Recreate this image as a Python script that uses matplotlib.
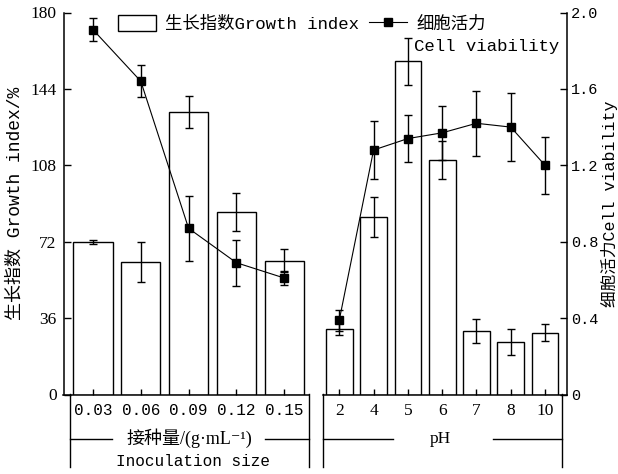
import matplotlib
matplotlib.use("Agg")
import matplotlib.pyplot as plt
from matplotlib.lines import Line2D
import numpy as np

# inoculation size group
inoc_labels = ["0.03", "0.06", "0.09", "0.12", "0.15"]
inoc_growth = [72, 62.5, 133, 86, 63]
inoc_growth_err = [1, 9.5, 7.5, 9, 5.5]
inoc_viab = [1.91, 1.64, 0.87, 0.69, 0.61]
inoc_viab_err = [0.06, 0.085, 0.17, 0.12, 0.035]

# pH group
ph_labels = ["2", "4", "5", "6", "7", "8", "10"]
ph_growth = [31, 83.5, 157, 110.5, 30, 24.7, 29]
ph_growth_err = [3, 9.5, 11, 8.8, 5.5, 6, 4]
ph_viab = [0.39, 1.28, 1.34, 1.37, 1.42, 1.40, 1.20]
ph_viab_err = [0.055, 0.15, 0.125, 0.14, 0.17, 0.18, 0.15]

left_ticks = [0, 36, 72, 108, 144, 180]
right_ticks = [0, 0.4, 0.8, 1.2, 1.6, 2.0]
right_ticklabels = ["0", "0.4", "0.8", "1.2", "1.6", "2.0"]

MONO = ["Liberation Mono", "Noto Sans CJK SC"]
SERIF = ["Liberation Serif", "DejaVu Serif", "Noto Sans CJK SC"]

W, H = 618, 474


def fx(x):
    return x / W


def fy(y):
    return 1 - y / H


def draw_group(ax, axr, growth, gerr, viab, verr, width):
    x = np.arange(len(growth))
    bars = ax.bar(x, growth, width, yerr=gerr, color="white", edgecolor="black",
                  linewidth=1, error_kw=dict(ecolor="black", elinewidth=1, capsize=3, capthick=1))
    eb = axr.errorbar(x, viab, yerr=verr, color="black", lw=0.8, marker="s", ms=6,
                      ecolor="black", elinewidth=1, capsize=3, capthick=1)
    return bars, eb


fig = plt.figure(figsize=(6.18, 4.74), dpi=100)
bottom = fy(394.5)
height = fy(12.5) - bottom
ax1 = fig.add_axes([fx(63.5), bottom, fx(309) - fx(63.5), height])
ax2 = fig.add_axes([fx(323), bottom, fx(567) - fx(323), height])
ax1r = ax1.twinx()
ax2r = ax2.twinx()

bars, eb = draw_group(ax1, ax1r, inoc_growth, inoc_growth_err, inoc_viab, inoc_viab_err, 0.82)
draw_group(ax2, ax2r, ph_growth, ph_growth_err, ph_viab, ph_viab_err, 0.78)

for a in (ax1, ax2):
    a.set_ylim(0, 180)
    a.spines["top"].set_visible(False)
    a.spines["right"].set_visible(False)
    a.spines["bottom"].set_linewidth(1.1)
    a.tick_params(axis="x", direction="in", length=4, width=1, pad=6)
for a in (ax1r, ax2r):
    a.set_ylim(0, 2.0)

ax1.set_xlim(-0.618, 4.52)
ax2.set_xlim(-0.475, 6.64)

ax1.set_xticks(range(len(inoc_labels)), inoc_labels, family=MONO, fontsize=11.5)
ax2.set_xticks(range(len(ph_labels)), ph_labels, family=SERIF, fontsize=12.5)

ax1.spines["left"].set_linewidth(1.1)
ax1.set_yticks(left_ticks, [str(t) for t in left_ticks], family=SERIF, fontsize=12.5)
ax1.tick_params(axis="y", direction="in", length=5, width=1, pad=5)
ax1.set_ylabel("生长指数 Growth index/%", family=MONO, fontsize=13)
ax1.yaxis.label.set_va("center")
ax1.yaxis.set_label_coords((15 - 63.5) / 245.5, 0.5)

ax1r.axis("off")

ax2.spines["left"].set_visible(False)
ax2.tick_params(axis="y", left=False, labelleft=False)

for s in ("top", "left", "bottom"):
    ax2r.spines[s].set_visible(False)
ax2r.spines["right"].set_linewidth(1.1)
ax2r.set_yticks(right_ticks, right_ticklabels, family=MONO, fontsize=11)
ax2r.tick_params(axis="y", direction="in", length=5, width=1, pad=3)
ax2r.set_ylabel("细胞活力Cell viability", family=MONO, fontsize=12)
ax2r.yaxis.label.set_va("center")
ax2r.yaxis.set_label_coords((609.5 - 323) / 244, 0.5)

# legend
leg = fig.legend([bars, eb.lines[0]], ["生长指数Growth index", "细胞活力"], ncol=2,
                 loc="upper left", bbox_to_anchor=(fx(118), fy(15)), frameon=False,
                 borderpad=0, borderaxespad=0, handlelength=2.2, handleheight=1.0,
                 handletextpad=0.5, columnspacing=0.6, prop=dict(family=MONO, size=12.5))
fig.text(fx(414), fy(47), "Cell viability", family=MONO, fontsize=12.5, ha="left", va="center")

# group brackets under the axes
segs = [
    ((70, 70), (394, 467)), ((309, 309), (394, 467)),
    ((70, 112), (439, 439)), ((265, 309), (439, 439)),
    ((323, 323), (394, 467)), ((562, 562), (394, 467)),
    ((323, 393), (439, 439)), ((493, 562), (439, 439)),
]
for xs, ys in segs:
    fig.add_artist(Line2D([fx(v) for v in xs], [fy(v) for v in ys], color="black", lw=1,
                          transform=fig.transFigure))

fig.text(fx(189), fy(438), "接种量/(g·mL⁻¹)", family=SERIF, fontsize=13, ha="center", va="center")
fig.text(fx(193), fy(461), "Inoculation size", family=MONO, fontsize=11.5, ha="center", va="center")
fig.text(fx(440), fy(439), "pH", family=SERIF, fontsize=12.5, ha="center", va="center")

fig.savefig("out.png", dpi=100)
